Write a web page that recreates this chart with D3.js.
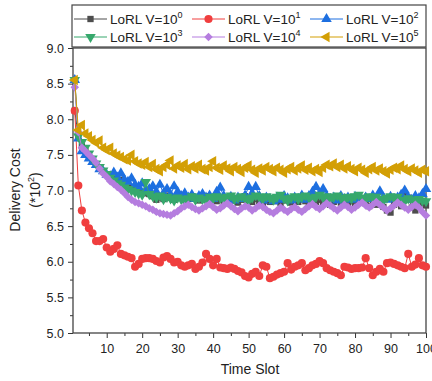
<!DOCTYPE html>
<html>
<head>
<meta charset="utf-8">
<script src="https://cdn.jsdelivr.net/npm/d3@7"></script>
<style>
  body { margin: 0; background: #fff; }
  text { font-family: Arial, "Liberation Sans", sans-serif; fill: #222; }
</style>
</head>
<body>
<div id="root"></div>
<script>
// series values, time slots 1..100
const v0 = [8.12,7.75,7.62,7.55,7.47,7.42,7.36,7.32,7.27,7.22,7.2,7.16,7.14,7.15,7.1,7.06,7.04,7.02,7.0,6.98,
  6.96,6.95,6.92,6.87,6.9,6.88,6.93,6.9,6.87,6.91,6.94,6.9,6.88,6.92,6.9,6.86,6.89,6.92,6.87,6.9,
  6.85,6.88,6.84,6.87,6.9,6.86,6.83,6.87,6.92,6.86,6.84,6.88,6.85,6.8,6.86,6.84,6.89,6.85,6.82,6.86,
  6.88,6.83,6.86,6.84,6.88,6.85,6.82,6.86,6.84,6.87,6.83,6.86,6.8,6.84,6.87,6.83,6.86,6.82,6.85,6.8,
  6.84,6.87,6.82,6.78,6.84,6.8,6.83,6.77,6.72,6.69,6.8,6.84,6.78,6.96,6.9,6.76,6.72,6.8,6.82,6.79]
const v1 = [8.12,7.07,6.72,6.55,6.47,6.40,6.29,6.29,6.32,6.20,6.14,6.18,6.23,6.11,6.09,6.07,6.05,5.93,5.97,6.04,
  6.05,6.05,6.04,6.01,5.99,6.06,6.08,6.04,5.99,6.00,5.95,5.93,5.95,5.97,5.90,5.93,5.99,6.11,6.04,5.95,
  6.04,5.92,5.91,5.90,5.92,5.90,5.87,5.85,5.80,5.78,5.83,5.86,5.80,5.95,5.93,5.77,5.79,5.82,5.84,5.86,
  5.98,5.89,5.93,5.95,5.98,5.88,5.91,5.95,5.97,6.01,5.98,5.91,5.88,5.86,5.84,5.81,5.93,5.92,5.90,5.91,
  5.91,5.92,6.05,5.91,5.81,5.86,5.90,5.86,5.98,5.99,5.97,5.95,5.93,5.91,6.11,5.93,5.96,6.05,5.95,5.93]
const v2 = [8.55,7.73,7.55,7.5,7.45,7.4,7.36,7.3,7.27,7.22,7.2,7.25,7.18,7.24,7.15,7.12,7.17,7.08,7.05,7.1,
  7.0,7.02,7.06,6.98,7.08,6.96,7.02,6.94,7.06,6.98,6.92,6.96,6.9,6.94,6.88,6.92,6.95,6.9,6.93,6.88,
  6.98,7.04,6.92,6.88,6.91,6.86,6.9,6.88,6.93,7.05,6.96,7.05,6.92,6.86,6.9,6.88,6.85,6.9,6.87,6.92,
  6.89,6.86,6.9,6.88,6.93,6.87,6.92,6.98,7.05,6.95,7.02,6.92,6.88,6.9,6.86,6.92,6.88,6.9,6.87,6.91,
  6.88,6.86,6.9,6.88,6.93,6.89,6.99,6.9,6.87,6.91,6.88,6.9,6.94,7.0,6.9,6.87,6.92,6.89,6.95,7.02]
const v3 = [8.55,7.76,7.68,7.6,7.52,7.45,7.38,7.33,7.28,7.23,7.18,7.14,7.1,7.08,7.04,7.02,7.0,6.98,6.96,6.94,
  7.12,6.95,6.92,6.9,6.93,6.88,6.91,6.89,6.86,6.9,6.88,6.85,6.89,6.92,6.87,6.9,6.88,6.86,6.91,6.89,
  6.92,6.9,6.87,6.91,6.93,6.88,6.9,6.92,6.89,6.86,6.9,6.93,6.91,6.88,6.92,6.9,6.87,6.91,6.94,6.89,
  6.86,6.9,6.92,6.88,6.91,6.93,6.9,6.87,6.91,6.94,6.9,6.92,6.88,6.91,6.93,6.9,6.87,6.91,6.89,6.92,
  6.94,6.9,6.88,6.92,6.89,6.91,6.88,6.86,6.9,6.92,6.89,6.91,6.87,6.85,6.89,6.87,6.84,6.88,6.86,6.85]
const v4 = [8.45,7.82,7.6,7.55,7.5,7.45,7.39,7.31,7.24,7.19,7.13,7.09,7.05,7.01,6.96,6.91,6.87,6.84,6.82,6.8,
  6.78,6.75,6.73,6.7,6.68,6.67,6.66,6.65,6.68,6.71,6.75,6.78,6.8,6.77,6.74,6.72,6.75,6.78,6.81,6.77,
  6.73,6.75,6.79,6.82,6.78,6.74,6.71,6.75,6.78,6.76,6.72,6.75,6.79,6.77,6.73,6.7,6.68,6.72,6.76,6.73,
  6.7,6.74,6.77,6.73,6.7,6.74,6.78,6.81,6.77,6.74,6.78,6.82,6.79,6.75,6.72,6.76,6.8,6.77,6.73,6.76,
  6.8,6.83,6.79,6.76,6.8,6.84,6.8,6.76,6.72,6.75,6.79,6.83,6.8,6.76,6.73,6.77,6.8,6.76,6.7,6.65]
const v5 = [8.55,7.85,7.92,7.8,7.76,7.71,7.67,7.7,7.6,7.57,7.6,7.52,7.49,7.47,7.44,7.42,7.5,7.41,7.38,7.36,
  7.4,7.33,7.37,7.3,7.27,7.33,7.36,7.42,7.31,7.35,7.32,7.37,7.3,7.34,7.31,7.36,7.3,7.28,7.33,7.41,
  7.32,7.29,7.35,7.31,7.27,7.33,7.3,7.26,7.32,7.35,7.29,7.25,7.31,7.28,7.33,7.3,7.27,7.32,7.29,7.25,
  7.3,7.33,7.28,7.31,7.35,7.29,7.32,7.27,7.3,7.26,7.32,7.36,7.34,7.38,7.33,7.36,7.31,7.34,7.3,7.27,
  7.32,7.29,7.25,7.3,7.33,7.28,7.31,7.27,7.24,7.29,7.32,7.3,7.35,7.3,7.27,7.31,7.28,7.25,7.29,7.27]

const exps = ["0", "1", "2", "3", "4", "5"]
const colors = ["#4d4d4d", "#f03e3e", "#1d6fe0", "#36a86c", "#b57ddf", "#d39f05"]
const xTicks = [10, 20, 30, 40, 50, 60, 70, 80, 90, 100]
const yTicks = [5.0, 5.5, 6.0, 6.5, 7.0, 7.5, 8.0, 8.5, 9.0]

const allSeries = [v0, v1, v2, v3, v4, v5]

const w = 432
const h = 381
const mLeft = 73, mRight = 426, mTop = 48, mBottom = 333

const svg = d3.select("#root")
  .append("svg")
  .attr("width", w)
  .attr("height", h)

const x = d3.scaleLinear().domain([0.5, 100]).range([mLeft, mRight])
const y = d3.scaleLinear().domain([5, 9]).range([mBottom, mTop])

// marker shapes
const tri = d3.symbol().type(d3.symbolTriangle).size(48)
const shapes = [
  { path: d3.symbol().type(d3.symbolSquare).size(40)(), rot: 0 },
  { path: d3.symbol().type(d3.symbolCircle).size(52)(), rot: 0 },
  { path: tri(), rot: 0 },
  { path: tri(), rot: 180 },
  { path: d3.symbol().type(d3.symbolSquare).size(36)(), rot: 45 },
  { path: tri(), rot: -90 }
]

// axes
const xMinor = d3.range(5, 100, 10)
const yMinor = d3.range(5.25, 9, 0.5)

svg.append("g")
  .attr("transform", `translate(0,${mBottom})`)
  .call(d3.axisBottom(x).tickValues(xMinor).tickSize(3).tickFormat(""))
svg.append("g")
  .attr("transform", `translate(0,${mBottom})`)
  .call(d3.axisBottom(x).tickValues(xTicks).tickSize(5).tickPadding(6))
svg.append("g")
  .attr("transform", `translate(${mLeft},0)`)
  .call(d3.axisLeft(y).tickValues(yMinor).tickSize(3).tickFormat(""))
svg.append("g")
  .attr("transform", `translate(${mLeft},0)`)
  .call(d3.axisLeft(y).tickValues(yTicks).tickSize(5).tickPadding(4).tickFormat(d3.format(".1f")))

svg.selectAll(".domain").remove()
svg.selectAll(".tick line").attr("stroke", "#333")
svg.selectAll(".tick text").attr("font-size", 12.5).attr("fill", "#222")

svg.append("rect")
  .attr("x", mLeft).attr("y", mTop)
  .attr("width", mRight - mLeft).attr("height", mBottom - mTop)
  .attr("fill", "none").attr("stroke", "#444").attr("stroke-width", 1.3)

// series
const line = d3.line().x((d, i) => x(i + 1)).y(d => y(d))

allSeries.forEach((vals, k) => {
  const g = svg.append("g")
  g.append("path")
    .attr("d", line(vals))
    .attr("fill", "none")
    .attr("stroke", colors[k])
    .attr("stroke-width", 1)
  g.selectAll("path.m")
    .data(vals)
    .enter()
    .append("path")
    .attr("class", "m")
    .attr("d", shapes[k].path)
    .attr("transform", (d, i) => `translate(${x(i + 1)},${y(d)}) rotate(${shapes[k].rot})`)
    .attr("fill", colors[k])
})

// legend
const lg = svg.append("g")
lg.append("rect")
  .attr("x", 72).attr("y", 5)
  .attr("width", 354).attr("height", 42)
  .attr("fill", "#fff").attr("stroke", "#444").attr("stroke-width", 1.2)

const colX = [74, 192, 310]
const rowY = [19, 37]
exps.forEach((e, k) => {
  const cx = colX[k % 3]
  const cy = rowY[Math.floor(k / 3)]
  const item = lg.append("g").attr("transform", `translate(${cx},${cy})`)
  item.append("line")
    .attr("x1", 0).attr("x2", 33)
    .attr("stroke", colors[k]).attr("stroke-width", 1)
  item.append("path")
    .attr("d", shapes[k].path)
    .attr("transform", `translate(16.5,0) rotate(${shapes[k].rot})`)
    .attr("fill", colors[k])
  const t = item.append("text")
    .attr("x", 36).attr("y", 5)
    .attr("font-size", 13.5)
  t.append("tspan").text("LoRL V=10")
  t.append("tspan").attr("dy", -6).attr("font-size", 9).text(e)
})

// axis titles
svg.append("text")
  .attr("x", 250).attr("y", 374)
  .attr("text-anchor", "middle")
  .attr("font-size", 14)
  .text("Time Slot")

svg.append("text")
  .attr("transform", "translate(20,190) rotate(-90)")
  .attr("text-anchor", "middle")
  .attr("font-size", 14)
  .text("Delivery Cost")

const yl = svg.append("text")
  .attr("transform", "translate(40,190) rotate(-90)")
  .attr("text-anchor", "middle")
  .attr("font-size", 14)
yl.append("tspan").text("(*10")
yl.append("tspan").attr("dy", -6).attr("font-size", 9).text("2")
yl.append("tspan").attr("dy", 6).text(")")
</script>
</body>
</html>
